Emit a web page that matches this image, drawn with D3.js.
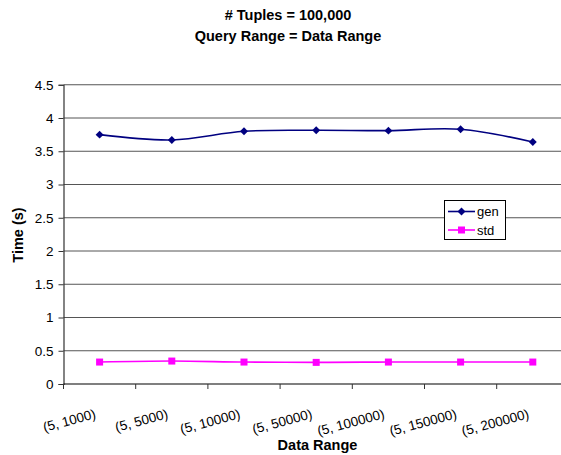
<!DOCTYPE html>
<html>
<head>
<meta charset="utf-8">
<script src="https://cdn.jsdelivr.net/npm/d3@7"></script>
<style>
  html, body { margin: 0; padding: 0; background: #fff; }
  svg { display: block; font-family: "Liberation Sans", Arial, sans-serif; }
</style>
</head>
<body>
<svg id="chart" width="561" height="455"></svg>
<script>
// Query time for generic vs. standard evaluation over growing data ranges
const categories = ["(5, 1000)", "(5, 5000)", "(5, 10000)", "(5, 50000)", "(5, 100000)", "(5, 150000)", "(5, 200000)"];
const genValues = [3.75, 3.67, 3.80, 3.815, 3.81, 3.83, 3.64];
const stdValues = [0.33, 0.345, 0.33, 0.325, 0.33, 0.33, 0.33];
const yTicks = [0, 0.5, 1, 1.5, 2, 2.5, 3, 3.5, 4, 4.5];
const seriesNames = ["gen", "std"];

const svg = d3.select("#chart");
const plotLeft = 63.5, plotTop = 84.75, plotBottom = 384;
const bandW = 72.2;
const plotRight = plotLeft + bandW * categories.length;

const x = d3.scaleBand().domain(categories).range([plotLeft, plotRight]).paddingInner(0).paddingOuter(0);
const y = d3.scaleLinear().domain([0, 4.5]).range([plotBottom, plotTop]);

// Titles
const title = svg.append("text").attr("text-anchor", "middle")
  .style("font-weight", "bold").style("font-size", "14.5px");
title.append("tspan").attr("x", 288).attr("y", 19.5).text("# Tuples = 100,000");
title.append("tspan").attr("x", 288).attr("y", 40.5).text("Query Range = Data Range");

// Horizontal gridlines
svg.append("g").selectAll("line").data(yTicks.filter(d => d > 0)).join("line")
  .attr("x1", plotLeft).attr("x2", 561)
  .attr("y1", d => y(d)).attr("y2", d => y(d))
  .attr("stroke", "#555").attr("stroke-width", 1);

// Y axis
const yAxis = svg.append("g").attr("transform", `translate(${plotLeft},0)`)
  .call(d3.axisLeft(y).tickValues(yTicks).tickSize(5).tickPadding(5).tickFormat(d3.format("")));
yAxis.select(".domain").attr("stroke", "#333").attr("stroke-width", 1.2);
yAxis.selectAll(".tick line").attr("stroke", "#333");
yAxis.selectAll("text").style("font-size", "13.5px").style("font-family", "Liberation Sans, Arial, sans-serif").attr("fill", "#000");

// X axis with ticks at category boundaries
const xAxisG = svg.append("g");
xAxisG.append("line").attr("x1", plotLeft).attr("x2", 561).attr("y1", plotBottom).attr("y2", plotBottom)
  .attr("stroke", "#000").attr("stroke-width", 1.2);
const boundaries = categories.map(c => x(c)).concat([plotRight]);
xAxisG.selectAll("line.tk").data(boundaries).join("line").attr("class", "tk")
  .attr("x1", d => d).attr("x2", d => d).attr("y1", plotBottom).attr("y2", plotBottom + 5)
  .attr("stroke", "#333");
xAxisG.selectAll("text").data(categories).join("text")
  .attr("transform", d => `translate(${x(d) + x.bandwidth() / 2 - 3},${plotBottom + 34}) rotate(-15)`)
  .attr("text-anchor", "end")
  .style("font-size", "13.5px")
  .text(d => d);

// Axis titles
svg.append("text").attr("x", 317.5).attr("y", 450).attr("text-anchor", "middle")
  .style("font-weight", "bold").style("font-size", "14.5px").text("Data Range");
svg.append("text").attr("transform", `translate(22.5,235) rotate(-90)`).attr("text-anchor", "middle")
  .style("font-weight", "bold").style("font-size", "14.5px").text("Time (s)");

const cx = (d, i) => x(categories[i]) + x.bandwidth() / 2;
const line = d3.line().x((d, i) => cx(d, i)).y(d => y(d)).curve(d3.curveCatmullRom.alpha(0.5));

// gen series
svg.append("path").datum(genValues).attr("d", line)
  .attr("fill", "none").attr("stroke", "#000080").attr("stroke-width", 1.6);
svg.append("g").selectAll("path").data(genValues).join("path")
  .attr("transform", (d, i) => `translate(${cx(d, i)},${y(d)})`)
  .attr("d", d3.symbol(d3.symbolDiamond2, 40))
  .attr("fill", "#000080");

// std series
svg.append("path").datum(stdValues).attr("d", line)
  .attr("fill", "none").attr("stroke", "#FF00FF").attr("stroke-width", 1.6);
svg.append("g").selectAll("rect").data(stdValues).join("rect")
  .attr("x", (d, i) => cx(d, i) - 3.5).attr("y", d => y(d) - 3.5)
  .attr("width", 7).attr("height", 7).attr("fill", "#FF00FF");

// Legend
const lg = svg.append("g");
lg.append("rect").attr("x", 444.5).attr("y", 200.5).attr("width", 61).attr("height", 39)
  .attr("fill", "#fff").attr("stroke", "#000").attr("stroke-width", 1);
const lgColors = ["#000080", "#FF00FF"];
seriesNames.forEach((name, i) => {
  const ly = 211.5 + i * 18.5;
  lg.append("line").attr("x1", 448).attr("x2", 475).attr("y1", ly).attr("y2", ly)
    .attr("stroke", lgColors[i]).attr("stroke-width", 1.6);
  if (i === 0) {
    lg.append("path").attr("transform", `translate(461.5,${ly})`)
      .attr("d", d3.symbol(d3.symbolDiamond2, 40)).attr("fill", lgColors[i]);
  } else {
    lg.append("rect").attr("x", 458).attr("y", ly - 3.5).attr("width", 7).attr("height", 7).attr("fill", lgColors[i]);
  }
  lg.append("text").attr("x", 477).attr("y", ly + 4.5).style("font-size", "13px").text(name);
});
</script>
</body>
</html>
